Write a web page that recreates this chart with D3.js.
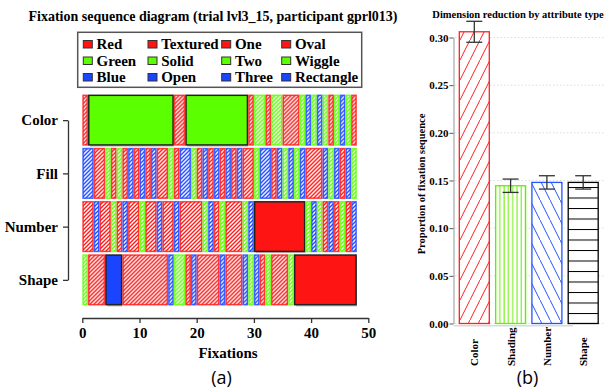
<!DOCTYPE html>
<html>
<head>
<meta charset="utf-8">
<script src="https://cdn.jsdelivr.net/npm/d3@7"></script>
<style>
  body { margin: 0; background: #fff; }
  svg { display: block; }
</style>
</head>
<body>
<div id="chart"></div>
<script>
// ---- panel (a): fixation sequence ----
const rowNames = ["Color", "Fill", "Number", "Shape"];
const colorLevels = ["Red", "Green", "Blue"];
const fillLevels = ["Textured", "Solid", "Open"];
const numberLevels = ["One", "Two", "Three"];
const shapeLevels = ["Oval", "Wiggle", "Rectangle"];

// level index for every fixation (0 = first level, 1 = second, 2 = third)
const colorSeq = [0, 1,1,1,1,1,1,1,1,1,1,1,1,1,1,1, 0,0, 1,1,1,1,1,1,1,1,1,1,1, 0, 1,1, 0, 1,1, 0,0,0, 1, 2, 1, 2, 1, 0, 1, 2, 1, 0];
const fillSeq = [2,2, 0,0, 1, 0, 1, 0, 2, 0, 2, 0, 2, 0,0, 1, 0, 2,2, 1, 0, 2, 0, 2, 0, 2, 0, 2, 0,0, 1, 2,2, 0, 2, 1, 2, 1, 2, 0,0,0, 2, 1, 2, 0, 2, 1];
const numberSeq = [0,0, 2, 0,0, 1, 0, 2, 0,0, 1, 0,0, 2, 0,0, 2, 0,0,0,0, 1, 2, 0, 1, 0,0,0, 1, 2, 0,0,0,0,0,0,0,0,0, 1, 2, 1, 0, 2, 0, 1, 0, 2];
const shapeSeq = [1, 0,0,0, 2,2,2, 0,0,0,0,0,0,0,0, 2, 1,1, 0, 2, 0,0,0,0, 2, 0,0,0, 2, 1, 2, 0, 1, 0,0,0, 1, 0,0,0,0,0,0,0,0,0,0,0];

// runs drawn solid, given by their first fixation
const colorSolid = [1, 18];
const fillSolid = [];
const numberSolid = [30];
const shapeSolid = [4, 37];

const fixTicks = [0, 10, 20, 30, 40, 50];

// ---- panel (b): dimension reduction ----
const attrTypes = ["Color", "Shading", "Number", "Shape"];
const proportions = [0.306, 0.1445, 0.148, 0.148];
const propErrors = [0.011, 0.007, 0.007, 0.007];
const propTicks = [0, 0.05, 0.10, 0.15, 0.20, 0.25, 0.30];

const serif = "'Liberation Serif', 'Times New Roman', serif";
const levelColors = ["#ff1414", "#5cff00", "#1a45ff"];

const svg = d3.select("#chart")
  .append("svg")
  .attr("width", 605)
  .attr("height", 392);

const defs = svg.append("defs");

// fine diagonal hatch for each level colour
levelColors.forEach((c, i) => {
  const p = defs.append("pattern")
    .attr("id", "hatch" + i)
    .attr("patternUnits", "userSpaceOnUse")
    .attr("width", 4)
    .attr("height", 4);
  p.append("rect").attr("width", 4).attr("height", 4).attr("fill", "#fff");
  p.append("path")
    .attr("d", "M-1,1 L1,-1 M0,4 L4,0 M3,5 L5,3")
    .attr("stroke", c)
    .attr("stroke-width", 1.4);
});

function toRuns(seq, solidStarts) {
  const runs = [];
  seq.forEach((v, i) => {
    const last = runs[runs.length - 1];
    if (last && last.v === v) last.end = i + 1;
    else runs.push({ v: v, start: i, end: i + 1 });
  });
  runs.forEach(r => r.solid = solidStarts.includes(r.start));
  return runs;
}

const rows = [
  { name: "Color", runs: toRuns(colorSeq, colorSolid) },
  { name: "Fill", runs: toRuns(fillSeq, fillSolid) },
  { name: "Number", runs: toRuns(numberSeq, numberSolid) },
  { name: "Shape", runs: toRuns(shapeSeq, shapeSolid) }
];

const x = d3.scaleLinear().domain([0, 50]).range([82.3, 368.3]);
const y = d3.scaleBand()
  .domain(rowNames)
  .range([93.5, 306.5])
  .paddingInner(0.04)
  .paddingOuter(0.02);

// title
svg.append("text")
  .attr("x", 213)
  .attr("y", 21)
  .attr("text-anchor", "middle")
  .style("font-family", serif)
  .style("font-weight", "bold")
  .style("font-size", "14px")
  .text("Fixation sequence diagram (trial lvl3_15, participant gprl013)");

// legend
const legendCols = [colorLevels, fillLevels, numberLevels, shapeLevels];
const legendColX = [83.3, 148, 221.7, 281.7];
svg.append("rect")
  .attr("x", 77.7)
  .attr("y", 32.3)
  .attr("width", 284)
  .attr("height", 55)
  .attr("fill", "#fff")
  .attr("stroke", "#555")
  .attr("stroke-width", 1.5);

legendCols.forEach((levels, c) => {
  levels.forEach((lab, r) => {
    const ly = 49 + r * 16.5;
    svg.append("rect")
      .attr("x", legendColX[c])
      .attr("y", ly - 8.5)
      .attr("width", 9)
      .attr("height", 7.5)
      .attr("fill", levelColors[r])
      .attr("stroke", "#333")
      .attr("stroke-width", 1);
    svg.append("text")
      .attr("x", legendColX[c] + 13.2)
      .attr("y", ly)
      .style("font-family", serif)
      .style("font-weight", "bold")
      .style("font-size", "15px")
      .text(lab);
  });
});

// sequence rows
const rowG = svg.selectAll("g.row")
  .data(rows)
  .enter()
  .append("g")
  .attr("class", "row")
  .attr("transform", d => `translate(0,${y(d.name)})`);

rowG.selectAll("rect.shadow")
  .data(d => d.runs.filter(r => r.solid))
  .enter()
  .append("rect")
  .attr("x", r => x(r.start) + 2)
  .attr("y", 2)
  .attr("width", r => x(r.end) - x(r.start) - 2)
  .attr("height", y.bandwidth() - 1)
  .attr("fill", "#777")
  .attr("opacity", 0.45);

rowG.selectAll("rect.run")
  .data(d => d.runs)
  .enter()
  .append("rect")
  .attr("class", "run")
  .attr("x", r => x(r.start) + 0.75)
  .attr("y", 0.75)
  .attr("width", r => x(r.end) - x(r.start) - 1.5)
  .attr("height", y.bandwidth() - 1.5)
  .attr("fill", r => r.solid ? levelColors[r.v] : `url(#hatch${r.v})`)
  .attr("stroke", r => r.solid ? "#222" : levelColors[r.v])
  .attr("stroke-opacity", r => r.solid ? 1 : 0.8)
  .attr("stroke-width", 1.5);

// x axis
const xAxis = svg.append("g")
  .attr("transform", "translate(0,318)")
  .call(d3.axisBottom(x).tickValues(fixTicks).tickSize(5).tickSizeOuter(0).tickPadding(4));
xAxis.select(".domain").attr("stroke", "#333").attr("stroke-width", 1.3);
xAxis.selectAll(".tick line").attr("stroke", "#333").attr("stroke-width", 1.3);
xAxis.selectAll("text")
  .style("font-family", serif)
  .style("font-weight", "bold")
  .style("font-size", "15px")
  .attr("fill", "#000");

svg.append("text")
  .attr("x", 228)
  .attr("y", 357.5)
  .attr("text-anchor", "middle")
  .style("font-family", serif)
  .style("font-weight", "bold")
  .style("font-size", "15px")
  .text("Fixations");

// y axis of panel (a): ticks at row centres
const yPt = d3.scalePoint()
  .domain(rowNames)
  .range([y(rowNames[0]) + y.bandwidth() / 2, y(rowNames[3]) + y.bandwidth() / 2]);
const yAxis = svg.append("g")
  .attr("transform", "translate(68,0)")
  .call(d3.axisLeft(yPt).tickSize(5).tickSizeOuter(0).tickPadding(5));
yAxis.select(".domain").attr("stroke", "#333").attr("stroke-width", 1.3);
yAxis.selectAll(".tick line").attr("stroke", "#333").attr("stroke-width", 1.3);
yAxis.selectAll("text")
  .style("font-family", serif)
  .style("font-weight", "bold")
  .style("font-size", "15px")
  .attr("fill", "#000");

svg.append("text")
  .attr("x", 221.5)
  .attr("y", 384)
  .attr("text-anchor", "middle")
  .style("font-family", "'Open Sans', sans-serif")
  .style("font-size", "18px")
  .text("(a)");

// ---- panel (b) ----
const yb = d3.scaleLinear().domain([0, 0.30]).range([323.5, 37.5]);
const xb = d3.scaleBand()
  .domain(attrTypes)
  .range([456.15, 601.35])
  .paddingInner(0.174)
  .paddingOuter(0.087);

const barColors = ["#ff2020", "#66ee00", "#2255ff", "#000"];

// bar patterns
const pColor = defs.append("pattern").attr("id", "pb0").attr("patternUnits", "userSpaceOnUse")
  .attr("width", 10).attr("height", 20);
pColor.append("rect").attr("width", 10).attr("height", 20).attr("fill", "#fff");
pColor.append("path").attr("d", "M-1,22 L11,-2").attr("stroke", barColors[0]).attr("stroke-width", 1);

const pShade = defs.append("pattern").attr("id", "pb1").attr("patternUnits", "userSpaceOnUse")
  .attr("width", 4.3).attr("height", 10);
pShade.append("rect").attr("width", 4.3).attr("height", 10).attr("fill", "#fff");
pShade.append("path").attr("d", "M1,0 L1,10").attr("stroke", barColors[1]).attr("stroke-width", 1);

const pNum = defs.append("pattern").attr("id", "pb2").attr("patternUnits", "userSpaceOnUse")
  .attr("width", 10).attr("height", 20);
pNum.append("rect").attr("width", 10).attr("height", 20).attr("fill", "#fff");
pNum.append("path").attr("d", "M-1,-2 L11,22").attr("stroke", barColors[2]).attr("stroke-width", 1);

const pShape = defs.append("pattern").attr("id", "pb3").attr("patternUnits", "userSpaceOnUse")
  .attr("width", 10).attr("height", 10.5).attr("y", 323.5);
pShape.append("rect").attr("width", 10).attr("height", 10.5).attr("fill", "#fff");
pShape.append("path").attr("d", "M0,0.5 L10,0.5").attr("stroke", barColors[3]).attr("stroke-width", 1);

// grid
svg.append("g")
  .selectAll("line")
  .data(propTicks)
  .enter()
  .append("line")
  .attr("x1", 455)
  .attr("x2", 605)
  .attr("y1", d => yb(d))
  .attr("y2", d => yb(d))
  .attr("stroke", "#dcdcdc")
  .attr("stroke-dasharray", "1.5,2");

svg.append("line")
  .attr("x1", 453.5)
  .attr("x2", 573)
  .attr("y1", yb(0) + 2.3)
  .attr("y2", yb(0) + 2.3)
  .attr("stroke", "#d4dcdc")
  .attr("stroke-width", 1.5);

svg.selectAll("rect.bar")
  .data(attrTypes)
  .enter()
  .append("rect")
  .attr("class", "bar")
  .attr("x", d => xb(d))
  .attr("y", (d, i) => yb(proportions[i]))
  .attr("width", xb.bandwidth())
  .attr("height", (d, i) => yb(0) - yb(proportions[i]))
  .attr("fill", (d, i) => `url(#pb${i})`)
  .attr("stroke", (d, i) => barColors[i])
  .attr("stroke-width", 1.3);

// error bars
const eb = svg.selectAll("g.err")
  .data(attrTypes)
  .enter()
  .append("g")
  .attr("class", "err")
  .attr("stroke", "#333")
  .attr("stroke-width", 1.3);
eb.append("line")
  .attr("x1", d => xb(d) + xb.bandwidth() / 2)
  .attr("x2", d => xb(d) + xb.bandwidth() / 2)
  .attr("y1", (d, i) => yb(proportions[i] - propErrors[i]))
  .attr("y2", (d, i) => yb(proportions[i] + propErrors[i]));
[-1, 1].forEach(s => {
  eb.append("line")
    .attr("x1", d => xb(d) + xb.bandwidth() / 2 - 8)
    .attr("x2", d => xb(d) + xb.bandwidth() / 2 + 8)
    .attr("y1", (d, i) => yb(proportions[i] + s * propErrors[i]))
    .attr("y2", (d, i) => yb(proportions[i] + s * propErrors[i]));
});

const ybAxis = svg.append("g")
  .attr("transform", "translate(453.5,0)")
  .call(d3.axisLeft(yb).tickValues(propTicks).tickFormat(d3.format(".2f")).tickSize(4).tickSizeOuter(0).tickPadding(1));
ybAxis.select(".domain").attr("stroke", "#c4cccc").attr("stroke-width", 2);
ybAxis.selectAll(".tick line").attr("stroke", "#555").attr("stroke-width", 1);
ybAxis.selectAll("text")
  .style("font-family", serif)
  .style("font-weight", "bold")
  .style("font-size", "11px")
  .attr("fill", "#000");

// category labels, rotated
svg.selectAll("text.cat")
  .data(attrTypes)
  .enter()
  .append("text")
  .attr("class", "cat")
  .attr("transform", d => `translate(${xb(d) + xb.bandwidth() / 2 + 4},366) rotate(-90)`)
  .attr("text-anchor", "start")
  .style("font-family", serif)
  .style("font-weight", "bold")
  .style("font-size", "11px")
  .text(d => d);

svg.append("text")
  .attr("transform", "translate(425,184) rotate(-90)")
  .attr("text-anchor", "middle")
  .style("font-family", serif)
  .style("font-weight", "bold")
  .style("font-size", "10.5px")
  .text("Proportion of fixation sequence");

svg.append("text")
  .attr("x", 518)
  .attr("y", 18)
  .attr("text-anchor", "middle")
  .style("font-family", serif)
  .style("font-weight", "bold")
  .style("font-size", "10.5px")
  .text("Dimension reduction by attribute type");

svg.append("text")
  .attr("x", 527.5)
  .attr("y", 384)
  .attr("text-anchor", "middle")
  .style("font-family", "'Open Sans', sans-serif")
  .style("font-size", "18px")
  .text("(b)");
</script>
</body>
</html>
